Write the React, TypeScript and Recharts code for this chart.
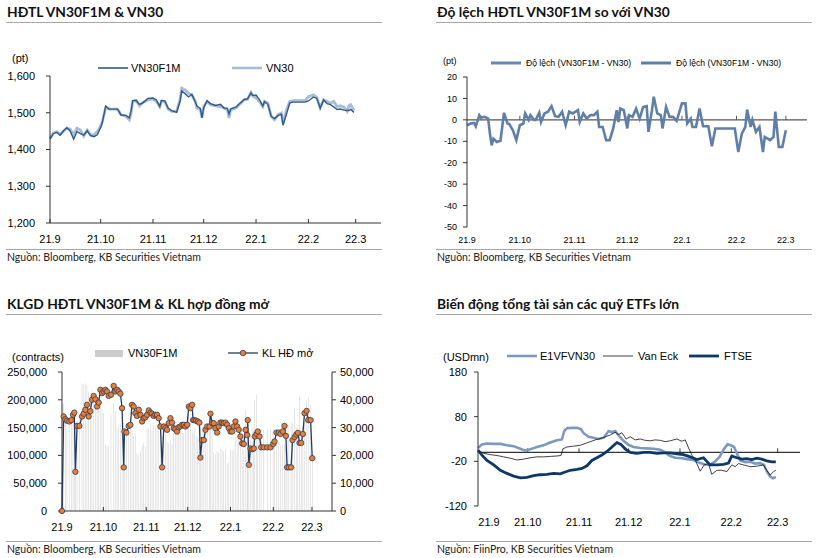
import React from "react";
import { Bar, ComposedChart, Line, LineChart, ReferenceLine, XAxis, YAxis } from "recharts";

// ---- shared x axis (days since 2021-09-01) ----
const monthTicks = [0, 30, 61, 91, 122, 153, 181];
const monthLabels = ["21.9", "21.10", "21.11", "21.12", "22.1", "22.2", "22.3"];

// ---- HĐTL VN30F1M & VN30 ----
const priceDays = [
  0, 2, 4, 6, 8, 10, 12, 14, 16, 18, 20, 22, 24, 26, 28, 30, 31, 33, 35, 37, 40, 42, 45, 47, 48, 49, 51, 53, 55, 58,
  61, 63, 65, 66, 68, 70, 72, 75, 77, 78, 80, 82, 84, 86, 87, 89, 90, 91, 93, 95, 98, 101, 103, 105, 106, 107, 110,
  112, 115, 117, 119, 120, 122, 124, 126, 127, 129, 131, 133, 135, 137, 138, 140, 142, 144, 148, 151, 153, 156, 158,
  160, 162, 164, 166, 168, 170, 172, 174, 176, 177, 178, 180,
];
const vn30 = [
  1431, 1445, 1448, 1441, 1450, 1458, 1455, 1440, 1458, 1453, 1437, 1453, 1440, 1440, 1449, 1463, 1476, 1515, 1510,
  1510, 1510, 1495, 1490, 1481, 1499, 1531, 1533, 1519, 1528, 1535, 1537, 1531, 1517, 1531, 1531, 1510, 1504, 1504,
  1535, 1567, 1562, 1553, 1548, 1531, 1513, 1508, 1486, 1517, 1531, 1522, 1519, 1517, 1513, 1508, 1486, 1508, 1513,
  1522, 1535, 1537, 1555, 1546, 1540, 1531, 1517, 1531, 1526, 1490, 1481, 1495, 1499, 1472, 1508, 1531, 1533, 1533,
  1533, 1544, 1549, 1542, 1513, 1535, 1531, 1526, 1531, 1517, 1519, 1515, 1504, 1519, 1522, 1506,
];
const vn30f1m = [
  1428, 1443, 1447, 1439, 1451, 1459, 1450, 1428, 1449, 1443, 1439, 1451, 1438, 1435, 1440, 1460, 1474, 1518, 1510,
  1510, 1510, 1494, 1493, 1486, 1505, 1533, 1534, 1523, 1527, 1539, 1540, 1535, 1517, 1534, 1532, 1512, 1506, 1501,
  1532, 1559, 1552, 1543, 1550, 1530, 1518, 1512, 1486, 1513, 1533, 1525, 1520, 1523, 1513, 1512, 1497, 1511, 1515,
  1524, 1536, 1538, 1554, 1547, 1548, 1536, 1518, 1530, 1523, 1490, 1484, 1492, 1496, 1466, 1496, 1527, 1529, 1529,
  1529, 1532, 1543, 1539, 1512, 1535, 1525, 1522, 1516, 1509, 1510, 1507, 1506, 1506, 1509, 1501,
];

// ---- Độ lệch (VN30F1M - VN30) ----
const basisDays = [
  0, 2, 4, 5, 7, 8, 10, 12, 13, 14, 15, 17, 19, 21, 23, 24, 26, 28, 30, 32, 33, 35, 36, 38, 39, 41, 42, 44, 46, 48,
  50, 52, 54, 56, 58, 60, 63, 64, 66, 68, 70, 72, 74, 75, 77, 79, 81, 83, 85, 86, 87, 89, 91, 92, 94, 96, 98, 100,
  102, 103, 105, 106, 108, 110, 111, 113, 115, 117, 119, 120, 122, 124, 125, 127, 128, 130, 132, 134, 137, 139, 141,
  145, 148, 152, 154, 156, 158, 159, 161, 162, 164, 166, 168, 169, 172, 174, 175, 177, 179, 181,
];
const basis = [
  -2.5, -1.7, -1.4, -3, 2.2, 1, 1.4, 0.6, -6.4, -11.9, -8.8, -10.3, -9.8, 3.3, -1.7, -2, -4.8, -9.5, -2.5, -1.7, 3, 0,
  2.2, 0, 0, 3.3, -1, 3, 3.8, 6.4, 1.7, 1.4, 3.8, -2.5, 3.8, 3, 4.5, -1, 3, 0.6, 2.2, 2.2, 3.8, -3.3, -3.3, -9.5, -9.5,
  -4, 4.5, -1, 5.3, 4.5, -4, 2.2, 1.4, 5.3, 0.6, 6, 6.4, -5.6, 4.5, 10.8, 3, 2.2, -4, 6, 1.4, 1.4, -0.5, 2.2, 7.7, 7.7,
  -1.7, 0.6, -3.3, -3.3, 5.3, -3, -3, -12.3, -4, -4, -4, -4, -15, -6.4, -3.3, 4.8, -3.3, 0, -5.6, -3.3, -15, -8, -9.5,
  -8, 3.8, -12.7, -12.7, -4.8,
];

// ---- KLGD HĐTL VN30F1M & KL hợp đồng mở ----
const oiDays = [
  0, 1.2, 2.4, 3.6, 5.3, 6.8, 8.0, 8.9, 9.7, 10.9, 12.6, 14.5, 15.7, 16.9, 18.1, 19.3, 20.5, 21.7, 22.9, 24.2, 25.4,
  26.6, 27.8, 29.0, 30.2, 31.4, 32.6, 33.8, 35.5, 37.4, 38.6, 39.9, 41.1, 42.3, 43.5, 44.7, 45.2, 46.6, 48.3, 49.5,
  50.7, 51.9, 53.1, 54.3, 55.6, 56.8, 58.0, 59.2, 60.4, 61.6, 62.8, 64.0, 65.2, 66.4, 67.6, 68.8, 70.0, 71.3, 72.5,
  73.7, 74.9, 76.1, 77.3, 78.5, 79.7, 80.9, 82.1, 83.3, 84.5, 85.7, 87.0, 88.2, 89.4, 90.6, 91.8, 93.0, 94.2, 94.9,
  95.9, 97.1, 98.3, 99.5, 100.2, 101.4, 102.7, 103.9, 105.1, 106.8, 107.5, 108.7, 109.9, 111.1, 112.3, 113.5, 114.7,
  115.9, 117.1, 118.4, 119.6, 120.8, 122.0, 123.2, 124.4, 125.6, 126.8, 128.0, 129.2, 130.4, 131.6, 132.9, 134.1,
  134.5, 135.3, 136.5, 137.7, 138.9, 139.6, 140.8, 141.8, 143.0, 144.2, 146.1, 148.6, 151.0, 152.9, 153.9, 155.3,
  157.0, 158.2, 159.9, 161.1, 162.1, 163.0, 164.3, 165.9, 166.9, 168.4, 169.6, 170.8, 172.0, 173.2, 174.4, 175.6,
  177.1, 178.3, 180.0, 181.2,
];
const futVolume = [
  190000, 194000, 165000, 160000, 168000, 160000, 176000, 160000, 158000, 162000, 170000, 229000, 228000, 230000,
  226000, 215000, 205000, 218000, 200000, 210000, 190000, 205000, 198000, 185000, 176000, 120000, 118000, 118000,
  175000, 194000, 180000, 150000, 152000, 158000, 150000, 133000, 135000, 140000, 155000, 150000, 160000, 135000,
  140000, 105000, 100000, 108000, 118000, 122000, 115000, 150000, 148000, 155000, 145000, 155000, 150000, 158000,
  160000, 140000, 135000, 145000, 138000, 125000, 122000, 128000, 120000, 145000, 140000, 148000, 142000, 150000,
  145000, 140000, 148000, 150000, 172000, 160000, 145000, 140000, 148000, 135000, 132000, 130000, 150000, 148000,
  152000, 145000, 150000, 178000, 150000, 160000, 105000, 102000, 108000, 105000, 112000, 110000, 108000, 112000,
  85000, 88000, 110000, 108000, 112000, 133000, 130000, 135000, 115000, 118000, 112000, 182000, 150000, 148000,
  145000, 140000, 150000, 145000, 200000, 209000, 147000, 147000, 147000, 147000, 147000, 147000, 147000, 133000,
  130000, 125000, 118000, 120000, 122000, 115000, 157000, 155000, 160000, 158000, 185000, 150000, 155000, 205000,
  145000, 150000, 160000, 200000, 205000, 190000, 100000,
];
const openInterest = [
  0, 34000, 33000, 32500, 32200, 32700, 34600, 35400, 14100, 30600, 30600, 34000, 35000, 36400, 38200, 34000, 35900,
  40000, 41400, 40200, 37600, 39000, 43600, 42400, 43000, 43600, 43000, 41400, 41800, 45000, 43000, 43600, 43000,
  42200, 37000, 15700, 28600, 28200, 30600, 31000, 38200, 37600, 35200, 34200, 36400, 34600, 32200, 33400, 33700,
  34600, 36200, 35400, 35000, 34200, 34600, 34600, 33400, 30400, 15700, 30400, 29800, 29200, 31600, 33400, 31800,
  29800, 29400, 28600, 30100, 30400, 31000, 31000, 30400, 31000, 37600, 37000, 38200, 32700, 32700, 32500, 32200,
  31800, 19200, 25500, 25500, 29200, 30400, 30400, 35000, 31600, 31600, 29800, 28200, 30400, 31800, 31800, 31600,
  31800, 31000, 29800, 28600, 28600, 30400, 32200, 30400, 29200, 26800, 24300, 24100, 29200, 27300, 32700, 16600,
  22500, 22200, 22500, 26800, 27700, 28600, 26800, 22900, 22900, 22900, 22900, 24100, 25000, 28200, 28200, 27700,
  28600, 30600, 27000, 15700, 15700, 15700, 25500, 26600, 27500, 28100, 24500, 24500, 27700, 35200, 36000, 32700,
  32700, 19000,
];

// ---- Biến động tổng tài sản các quỹ ETFs lớn ----
const e1Days = [
  0, 2.4, 5.4, 9.5, 13.5, 17.5, 21.5, 25.6, 28.6, 31.6, 35.6, 39.6, 43.7, 47.7, 50.7, 52.1, 53.7, 56.7, 59.8, 62.2,
  63.8, 66.8, 69.8, 72.8, 75.9, 78.9, 80.9, 82.9, 84.9, 87.9, 90.9, 93.9, 98.0, 102.0, 106.0, 110.1, 113.1, 116.1,
  119.1, 123.1, 126.2, 130.2, 134.2, 137.2, 140.2, 143.3, 145.9, 148.3, 150.7, 152.7, 154.7, 156.3, 158.4, 161.4,
  164.4, 167.4, 170.4, 172.8, 174.4, 176.5, 178.1, 179.9,
];
const e1vfvn30 = [
  10, 18, 20, 19, 19, 16, 14, 8, 4, 7, 12, 16, 22, 27, 29, 48, 54, 55, 55, 52, 43, 35, 33, 30, 33, 48, 45, 48, 38, 26,
  17, 12, 10, 9, 8, 6, 0, -8, -12, -13, -15, -17, -24, -27, -28, -20, -10, 6, 18, 16, 12, -2, -18, -22, -21, -25, -24,
  -28, -42, -54, -58, -55,
];
const vanEckDays = [
  0, 3.4, 7.4, 11.5, 15.5, 19.5, 23.5, 27.6, 31.6, 35.6, 39.6, 43.7, 47.7, 50.1, 51.3, 53.7, 57.7, 61.8, 64.8, 67.8,
  70.8, 73.8, 76.9, 79.9, 82.9, 84.9, 86.9, 89.5, 91.9, 95.0, 98.0, 101.0, 104.0, 107.0, 110.1, 113.1, 116.1, 120.1,
  123.1, 125.2, 127.2, 129.2, 131.2, 134.2, 136.6, 139.2, 141.2, 144.3, 147.3, 150.3, 153.3, 155.3, 157.3, 160.4,
  164.4, 168.4, 172.4, 174.4, 176.5, 178.5, 179.9,
];
const vanEck = [
  5, -2, -5, -7, -10, -13, -17, -15, -12, -10, -10, -9, -8, -7, 8, 12, 14, 16, 20, 24, 28, 31, 35, 39, 45, 40, 44, 30,
  35, 28, 30, 27, 26, 28, 27, 24, 26, 30, 25, 28, 10, -6, -17, -42, -28, -25, -49, -40, -40, -43, -28, -32, -25, -28,
  -32, -31, -28, -40, -51, -43, -40,
];
const ftseDays = [
  0, 2.4, 5.4, 9.5, 13.5, 17.5, 21.5, 25.6, 29.6, 33.6, 37.6, 41.6, 45.7, 49.7, 52.7, 55.7, 59.8, 62.8, 65.8, 68.8,
  71.8, 74.8, 77.9, 80.9, 83.9, 86.3, 88.9, 91.9, 96.0, 100.0, 104.0, 108.0, 112.1, 116.1, 120.1, 124.1, 128.2, 132.2,
  136.2, 140.2, 144.3, 148.3, 151.3, 153.3, 156.3, 159.4, 162.4, 165.4, 168.4, 171.4, 174.4, 177.5, 179.9,
];
const ftse = [
  5, -6, -18, -28, -40, -47, -53, -57, -56, -52, -50, -49, -47, -48, -44, -40, -38, -36, -30, -18, -12, -6, 2, 12, 22,
  18, 8, 0, -2, 0, 0, -2, -1, -1, -3, -5, -10, -16, -12, -28, -28, -27, -24, -8, -12, -15, -14, -16, -13, -15, -19, -21,
  -21,
];

// ---- tables for recharts ----
const priceData = priceDays.map((d, i) => ({ d, vn30: vn30[i], f1m: vn30f1m[i] }));
const basisData = basisDays.map((d, i) => ({ d, v: basis[i] }));
const volumeData = oiDays.map((d, i) => ({ d, vol: futVolume[i], oi: openInterest[i] }));
const e1Data = e1Days.map((d, i) => ({ d, v: e1vfvn30[i] }));
const vanEckData = vanEckDays.map((d, i) => ({ d, v: vanEck[i] }));
const ftseData = ftseDays.map((d, i) => ({ d, v: ftse[i] }));

const SANS = "'Liberation Sans', Arial, sans-serif";
const HUMAN = "Lato, 'Open Sans', sans-serif";
const AXIS = "#333";

const monthFmt = (v: number) => monthLabels[monthTicks.indexOf(v)] ?? "";
const thousands = (v: number) => v.toLocaleString("en-US");
const tick11 = { fontSize: 11, fill: "#000", fontFamily: SANS };
const tick9 = { fontSize: 9, fill: "#000", fontFamily: SANS };

function Panel({ x, top, title, source }: { x: number; top: number; title: string; source: string }) {
  return (
    <>
      <div
        style={{
          position: "absolute", left: x, top: top - 9, lineHeight: "18px", fontFamily: HUMAN,
          fontWeight: 700, fontSize: 13.8, color: "#111", whiteSpace: "nowrap",
        }}
      >
        {title}
      </div>
      <div style={{ position: "absolute", left: x - 1, top: top + 10, width: 376, height: 1, background: "#a6a6a6" }} />
      <div style={{ position: "absolute", left: x - 1, top: top + 237, width: 376, height: 1, background: "#a6a6a6" }} />
      <div
        style={{
          position: "absolute", left: x, top: top + 238, lineHeight: "14px", fontFamily: HUMAN,
          fontSize: 10.5, color: "#222", whiteSpace: "nowrap",
        }}
      >
        {source}
      </div>
    </>
  );
}

function Label({ x, y, text, size = 11 }: { x: number; y: number; text: string; size?: number }) {
  return (
    <div
      style={{
        position: "absolute", left: x, top: y - 7, lineHeight: "14px", fontSize: size,
        fontFamily: SANS, color: "#000", whiteSpace: "nowrap",
      }}
    >
      {text}
    </div>
  );
}

function LineKey({ x, y, color, width, dot }: { x: number; y: number; color: string; width: number; dot?: boolean }) {
  return (
    <svg style={{ position: "absolute", left: x, top: y - 5 }} width={32} height={10}>
      <line x1={1} y1={5} x2={31} y2={5} stroke={color} strokeWidth={width} />
      {dot && <circle cx={16} cy={5} r={2.8} fill="#ee7d31" stroke="#2b3f5c" strokeWidth={0.8} />}
    </svg>
  );
}

function EtfMonthTick(props: any) {
  const { x, y, payload, index } = props;
  return (
    <text x={x + (index === 0 ? 11 : 0)} y={y} dy="0.71em" textAnchor="middle" {...tick11}>
      {monthFmt(payload.value)}
    </text>
  );
}

export default function App() {
  return (
    <div style={{ position: "absolute", left: 0, top: 0, width: 825, height: 558, background: "#fff", overflow: "hidden" }}>
      <Panel x={7} top={12} title="HĐTL VN30F1M & VN30" source="Nguồn: Bloomberg, KB Securities Vietnam" />
      <Panel x={437} top={12} title="Độ lệch HĐTL VN30F1M so với VN30" source="Nguồn: Bloomberg, KB Securities Vietnam" />
      <Panel x={7} top={304} title="KLGD HĐTL VN30F1M & KL hợp đồng mở" source="Nguồn: Bloomberg, KB Securities Vietnam" />
      <Panel x={437} top={304} title="Biến động tổng tài sản các quỹ ETFs lớn" source="Nguồn: FiinPro, KB Securities Vietnam" />

      {/* chart 1 */}
      <div style={{ position: "absolute", left: 0, top: 0 }}>
        <LineChart width={400} height={250} data={priceData} margin={{ top: 76, right: 19, bottom: 0, left: 0 }}>
          <XAxis dataKey="d" type="number" domain={[0, 196]} ticks={monthTicks} interval={0} tickFormatter={monthFmt}
            tick={tick11} tickSize={-4} tickMargin={16} height={27} stroke={AXIS} />
          <YAxis domain={[1200, 1600]} ticks={[1200, 1300, 1400, 1500, 1600]} interval={0} tickFormatter={thousands}
            width={50} tickSize={4} tickMargin={11} tick={tick11} stroke={AXIS} />
          <Line dataKey="vn30" stroke="#a9bcd6" strokeWidth={2.8} dot={false} isAnimationActive={false} />
          <Line dataKey="f1m" stroke="#2f5b8b" strokeWidth={1.4} dot={false} isAnimationActive={false} />
        </LineChart>
      </div>
      <Label x={12} y={58} text="(pt)" />
      <LineKey x={97} y={68} color="#2f5b8b" width={1.6} />
      <Label x={131} y={68} text="VN30F1M" />
      <LineKey x={231} y={68} color="#a9bcd6" width={2.6} />
      <Label x={266} y={68} text="VN30" />

      {/* chart 2 */}
      <div style={{ position: "absolute", left: 410, top: 0 }}>
        <LineChart width={400} height={250} data={basisData} margin={{ top: 77, right: 3, bottom: 0, left: 0 }}>
          <XAxis dataKey="d" type="number" domain={[0, 193]} ticks={monthTicks} interval={0} tickFormatter={monthFmt}
            tick={tick9} axisLine={false} tickLine={false} tickSize={0} tickMargin={10} height={23} />
          <YAxis domain={[-50, 20]} ticks={[-50, -40, -30, -20, -10, 0, 10, 20]} interval={0} width={57} tickSize={4}
            tickMargin={6} tick={tick9} stroke={AXIS} />
          <ReferenceLine y={0} stroke="#555" strokeWidth={1.3} />
          {monthTicks.slice(1).map((t) => (
            <ReferenceLine key={t} segment={[{ x: t, y: 0 }, { x: t, y: 1.9 }]} stroke="#555" />
          ))}
          <Line dataKey="v" stroke="#5f7fa8" strokeWidth={2.6} dot={false} isAnimationActive={false} />
        </LineChart>
      </div>
      <Label x={443} y={61} text="(pt)" size={9} />
      <LineKey x={490} y={63} color="#6a88ad" width={3} />
      <Label x={526} y={63} text="Độ lệch (VN30F1M - VN30)" size={8.6} />
      <LineKey x={640} y={63} color="#5f7fa8" width={3} />
      <Label x={676} y={63} text="Độ lệch (VN30F1M - VN30)" size={8.6} />

      {/* chart 3 */}
      <div style={{ position: "absolute", left: 0, top: 290 }}>
        <ComposedChart width={410} height={250} data={volumeData} margin={{ top: 82, right: 0, bottom: 0, left: 0 }}>
          <XAxis dataKey="d" type="number" domain={[0, 195.5]} ticks={monthTicks} interval={0} tickFormatter={monthFmt}
            tick={tick11} tickSize={-4} tickMargin={16} height={29} stroke={AXIS} />
          <YAxis yAxisId="vol" domain={[0, 250000]} ticks={[0, 50000, 100000, 150000, 200000, 250000]} interval={0}
            tickFormatter={thousands} width={62} tickSize={4} tickMargin={11} tick={tick11} stroke={AXIS} />
          <YAxis yAxisId="oi" orientation="right" domain={[0, 50000]} ticks={[0, 10000, 20000, 30000, 40000, 50000]}
            interval={0} tickFormatter={thousands} width={78} tickSize={4} tickMargin={4} tick={tick11} stroke={AXIS} />
          <Bar yAxisId="vol" dataKey="vol" fill="#cccccc" barSize={2} isAnimationActive={false} />
          <Line yAxisId="oi" dataKey="oi" stroke="#1f3b64" strokeWidth={1.3}
            dot={{ r: 2.7, fill: "#ee7d31", stroke: "#2b3f5c", strokeWidth: 0.8 }} isAnimationActive={false} />
        </ComposedChart>
      </div>
      <Label x={12} y={357} text="(contracts)" />
      <div style={{ position: "absolute", left: 95, top: 350, width: 28, height: 7, background: "#cccccc" }} />
      <Label x={128} y={353} text="VN30F1M" />
      <LineKey x={227} y={353} color="#1f3b64" width={1.3} dot />
      <Label x={262} y={353} text="KL HĐ mở" />

      {/* chart 4 */}
      <div style={{ position: "absolute", left: 410, top: 290 }}>
        <LineChart width={410} height={250} margin={{ top: 82, right: 20, bottom: 0, left: 0 }}>
          <XAxis dataKey="d" type="number" domain={[0, 194.5]} ticks={monthTicks} interval={0}
            tick={<EtfMonthTick />} axisLine={false} tickLine={false} tickSize={0} tickMargin={12} height={34} />
          <YAxis domain={[-120, 180]} ticks={[-120, -20, 80, 180]} interval={0} width={68} tickSize={4} tickMargin={7}
            tick={tick11} stroke={AXIS} />
          <ReferenceLine y={0} stroke="#333" strokeWidth={1.2} />
          {monthTicks.slice(1).map((t) => (
            <ReferenceLine key={t} segment={[{ x: t, y: 0 }, { x: t, y: 9 }]} stroke="#333" />
          ))}
          <Line data={e1Data} dataKey="v" stroke="#7d99c0" strokeWidth={2.6} dot={false} isAnimationActive={false} />
          <Line data={vanEckData} dataKey="v" stroke="#111" strokeWidth={0.8} dot={false} isAnimationActive={false} />
          <Line data={ftseData} dataKey="v" stroke="#0d3868" strokeWidth={2.8} dot={false} isAnimationActive={false} />
        </LineChart>
      </div>
      <Label x={443} y={357} text="(USDmn)" />
      <LineKey x={506} y={356} color="#7d99c0" width={2.6} />
      <Label x={540} y={356} text="E1VFVN30" />
      <LineKey x={602} y={356} color="#111" width={0.8} />
      <Label x={638} y={356} text="Van Eck" />
      <LineKey x={688} y={356} color="#0d3868" width={2.8} />
      <Label x={724} y={356} text="FTSE" />
    </div>
  );
}
